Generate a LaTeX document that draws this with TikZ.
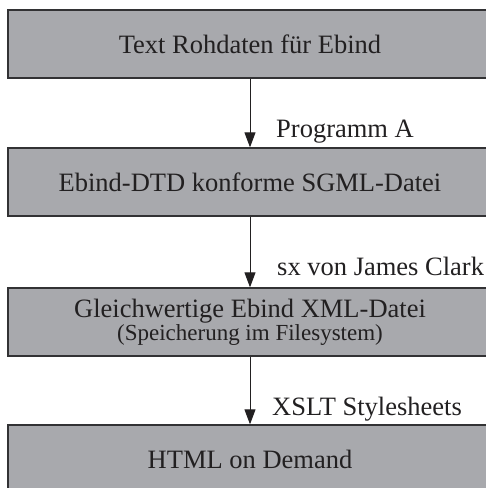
\documentclass[tikz,border=0pt]{standalone}
\usepackage{fontspec}
\setmainfont{Liberation Serif}
\usetikzlibrary{arrows.meta}
\definecolor{boxgray}{RGB}{168,169,173}
\definecolor{edgegray}{RGB}{50,50,52}
\definecolor{inkgray}{RGB}{34,32,33}
\tikzset{
  stage/.style={draw=edgegray, line width=1.3pt, fill=boxgray, text=inkgray,
    minimum width=484pt, minimum height=68pt, inner sep=0pt, align=center,
    font=\fontsize{26.5}{30}\selectfont},
  flow/.style={-{Triangle[length=15pt,width=11pt]}, line width=1pt, draw=inkgray, fill=inkgray},
  tool/.style={anchor=base west, inner sep=0pt, text=inkgray,
    font=\fontsize{26.5}{30}\selectfont}
}
\begin{document}
\begin{tikzpicture}[x=1pt, y=-1pt]
    \useasboundingbox (0,0) rectangle (486,488);
    \clip (0,0) rectangle (486,488);

    \node[stage] (raw)  at (250, 44)  {Text Rohdaten für Ebind};
    \node[stage] (sgml) at (250, 182) {Ebind-DTD konforme SGML-Datei};
    \node[stage] (xml)  at (250, 322)
        {Gleichwertige Ebind XML-Datei\\[-7pt]{\fontsize{23}{24}\selectfont(Speicherung im Filesystem)}};
    \node[stage] (html) at (250, 459) {HTML on Demand};

    \draw[flow] (raw)  -- (sgml);
    \draw[flow] (sgml) -- (xml);
    \draw[flow] (xml)  -- (html);

    \node[tool] (progA) at (276, 137) {Programm A};
    \node[tool] (sx)    at (277, 275) {sx von James Clark};
    \node[tool] (xslt)  at (272, 415) {XSLT Stylesheets};

\end{tikzpicture}
\end{document}
